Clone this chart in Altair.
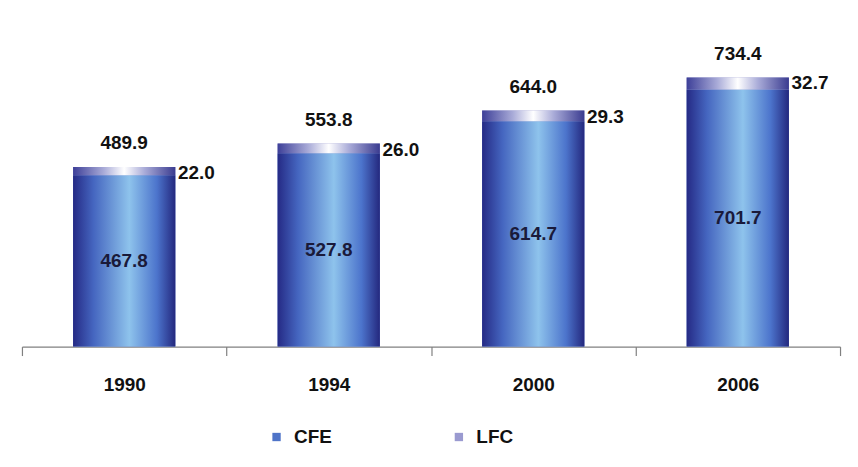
import altair as alt
import pandas as pd

years = ["1990", "1994", "2000", "2006"]
cfe = [467.8, 527.8, 614.7, 701.7]
lfc = [22.0, 26.0, 29.3, 32.7]
totals = [489.9, 553.8, 644.0, 734.4]
cfe_labels = ["467.8", "527.8", "614.7", "701.7"]
lfc_labels = ["22.0", "26.0", "29.3", "32.7"]
total_labels = ["489.9", "553.8", "644.0", "734.4"]
series = ["CFE", "LFC"]

df = pd.DataFrame({
    "year": years,
    "cfe": cfe,
    "lfc": lfc,
    "top": [c + l for c, l in zip(cfe, lfc)],
    "total": totals,
    "cfe_mid": [c / 2 for c in cfe],
    "cfe_label": cfe_labels,
    "lfc_label": lfc_labels,
    "total_label": total_labels,
})

long = pd.DataFrame({
    "year": years * 2,
    "series": [series[0]] * 4 + [series[1]] * 4,
    "start": [0] * 4 + cfe,
    "end": cfe + [c + l for c, l in zip(cfe, lfc)],
})

FONT = "Liberation Sans"
FS = 19

x_enc = alt.X(
    "year:N",
    sort=years,
    title=None,
    scale=alt.Scale(paddingInner=0, paddingOuter=0),
    axis=alt.Axis(
        labelAngle=0, labelFont=FONT, labelFontSize=FS, labelFontWeight="bold",
        labelColor="#111111", tickBand="extent", tickSize=9, tickColor="#808080",
        domainColor="#808080", labelPadding=20, domainWidth=1.2, tickWidth=1.2,
    ),
)
y_scale = alt.Scale(domain=[0, 900], nice=False)
bw = alt.RelativeBandSize(0.5)

base_bars = alt.Chart(long).mark_bar(width=bw).encode(
    x=x_enc,
    y=alt.Y("start:Q", scale=y_scale, axis=None, title=None),
    y2="end:Q",
    color=alt.Color(
        "series:N",
        scale=alt.Scale(domain=series, range=["#4f74c8", "#9a9ad0"]),
        legend=alt.Legend(
            title=None, orient="none", direction="horizontal", legendX=246,
            legendY=412, symbolType="square", symbolSize=70, labelFont=FONT,
            labelFontSize=FS, labelFontWeight="bold", labelColor="#111111",
            columnPadding=118, symbolStrokeWidth=0, labelOffset=8,
        ),
    ),
)

cfe_grad = alt.Gradient(
    gradient="linear", x1=0, x2=1, y1=0, y2=0,
    stops=[
        alt.GradientStop(color="#252a85", offset=0),
        alt.GradientStop(color="#4566c0", offset=0.2),
        alt.GradientStop(color="#8ec3ec", offset=0.55),
        alt.GradientStop(color="#4c74cc", offset=0.82),
        alt.GradientStop(color="#24287e", offset=1),
    ],
)
lfc_grad = alt.Gradient(
    gradient="linear", x1=0, x2=1, y1=0, y2=0,
    stops=[
        alt.GradientStop(color="#3d3f98", offset=0),
        alt.GradientStop(color="#a9abd8", offset=0.3),
        alt.GradientStop(color="#ffffff", offset=0.5),
        alt.GradientStop(color="#a9abd8", offset=0.7),
        alt.GradientStop(color="#3a3b90", offset=1),
    ],
)

cfe_bars = alt.Chart(df).mark_bar(color=cfe_grad, width=bw).encode(
    x=x_enc, y=alt.Y("cfe:Q", scale=y_scale), y2=alt.datum(0)
)
lfc_bars = alt.Chart(df).mark_bar(color=lfc_grad, width=bw).encode(
    x=x_enc, y=alt.Y("top:Q", scale=y_scale), y2="cfe:Q"
)

cfe_text = alt.Chart(df).mark_text(
    font=FONT, fontSize=FS, fontWeight="bold", color="#1a1a3a"
).encode(x=x_enc, y=alt.Y("cfe_mid:Q", scale=y_scale), text="cfe_label:N")

total_text = alt.Chart(df).mark_text(
    font=FONT, fontSize=FS, fontWeight="bold", color="#111111", dy=-24
).encode(x=x_enc, y=alt.Y("top:Q", scale=y_scale), text="total_label:N")

lfc_text = alt.Chart(df).mark_text(
    font=FONT, fontSize=FS, fontWeight="bold", color="#111111",
    align="left", dx=54, dy=6
).encode(x=x_enc, y=alt.Y("top:Q", scale=y_scale), text="lfc_label:N")

chart = alt.layer(
    base_bars, cfe_bars, lfc_bars, cfe_text, total_text, lfc_text
).properties(
    width=821, height=331,
    autosize=alt.AutoSizeParams(type="none"),
    padding={"left": 14, "top": 8, "right": 10, "bottom": 100},
).configure_view(stroke=None).configure_axis(grid=False)

chart.save("out.html", embed_options={"renderer": "svg", "actions": False})
